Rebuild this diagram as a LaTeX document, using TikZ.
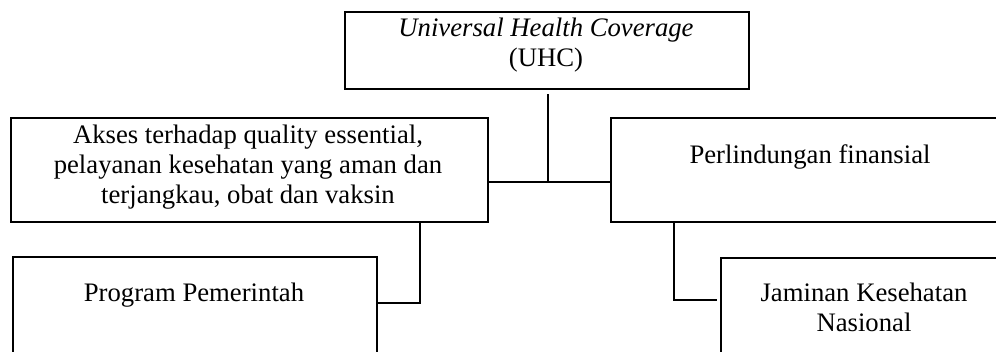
\documentclass[tikz,border=0pt]{standalone}
\usepackage{fontspec}
\setmainfont{Liberation Serif}
\begin{document}
\begin{tikzpicture}[x=1pt,y=-1pt,
  box/.style={draw=black, line width=2pt, rectangle, inner sep=0pt, anchor=north west},
  txt/.style={font=\fontsize{26.7}{30}\selectfont, align=center, inner sep=0pt},
  link/.style={draw=black, line width=2pt}]
\useasboundingbox (0,0) rectangle (996,351);
\clip (0,0) rectangle (996,351);
\fill[white] (0,0) rectangle (996,351);
% boxes
\node[box, minimum width=404pt, minimum height=77pt] (uhc) at (344,11) {};
\node[box, minimum width=477pt, minimum height=104pt] (akses) at (10,117) {};
\node[box, minimum width=400pt, minimum height=104pt] (fin) at (610,117) {};
\node[box, minimum width=364pt, minimum height=120pt] (prog) at (12,256) {};
\node[box, minimum width=290pt, minimum height=120pt] (jam) at (720,257) {};
% texts
\node[txt] (uhct) at (546,45) {\textit{Universal Health Coverage}\\(UHC)};
\node[txt] (aksest) at (248,167) {Akses terhadap quality essential,\\pelayanan kesehatan yang aman dan\\terjangkau, obat dan vaksin};
\node[txt] (fint) at (810,157) {Perlindungan finansial};
\node[txt] (progt) at (194,295) {Program Pemerintah};
\node[txt] (jamt) at (864,307) {Jaminan Kesehatan\\Nasional};
% connectors
\coordinate (j) at (548,182);
\coordinate (k1) at (420,303);
\coordinate (k2) at (674,300);
\draw[link, shorten <=4pt] (uhc.south -| j) -- (j);
\draw[link] (j -| akses.east) -- (j -| fin.west);
\draw[link] (akses.south -| k1) -- (k1) -- (k1 -| prog.east);
\draw[link, shorten >=3pt] (fin.south -| k2) -- (k2) -- (k2 -| jam.west);
\end{tikzpicture}
\end{document}
